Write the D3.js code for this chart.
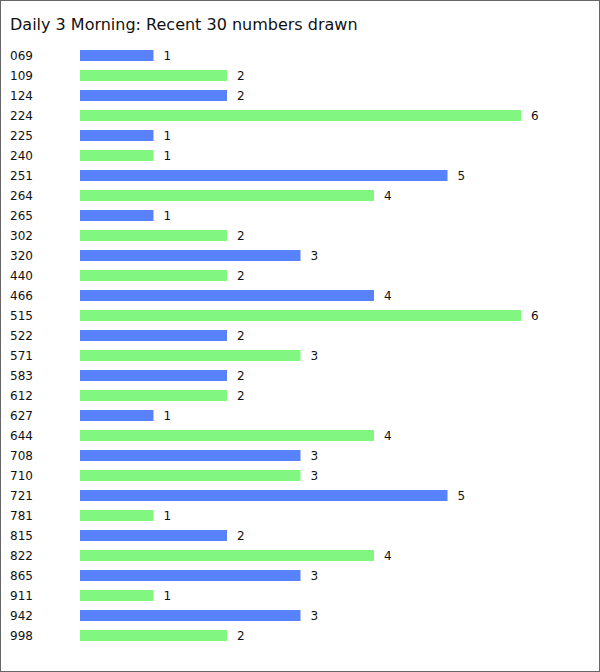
<!DOCTYPE html>
<html><head><meta charset="utf-8">
<script src="https://cdn.jsdelivr.net/npm/d3@7"></script>
<style>body{margin:0;background:#fff}svg{display:block}</style>
</head><body>
<script>
const title = "Daily 3 Morning: Recent 30 numbers drawn";
const numbers = ["069","109","124","224","225","240","251","264","265","302","320","440","466","515","522","571","583","612","627","644","708","710","721","781","815","822","865","911","942","998"];
const counts = [1,2,2,6,1,1,5,4,1,2,3,2,4,6,2,3,2,2,1,4,3,3,5,1,2,4,3,1,3,2];
const colors = ["#5882fa","#81f781"];

const W = 600, H = 672;
const svg = d3.select("body").append("svg").attr("width", W).attr("height", H);
svg.append("rect").attr("x",0.5).attr("y",0.5).attr("width",W-1).attr("height",H-1)
  .attr("fill","#fff").attr("stroke","#666");
svg.append("text").attr("x",10).attr("y",30).text(title)
  .attr("font-family","Verdana, 'DejaVu Sans', sans-serif").attr("font-size",16).attr("fill","#111");

const x = d3.scaleLinear().domain([0,6]).range([80,521]);
const y = d3.scaleBand().domain(numbers).range([45.5,645.5]).paddingInner(0.45).paddingOuter(0.225);

const g = svg.append("g").attr("font-family","Verdana, 'DejaVu Sans', sans-serif").attr("font-size",12);
const rows = g.selectAll("g.row").data(numbers).join("g");
rows.append("text").attr("x",10).attr("y",d=>y(d)+y.bandwidth()/2).attr("dy","0.36em").text(d=>d).attr("fill","#111");
rows.append("rect").attr("x",x(0)).attr("y",d=>y(d)).attr("height",y.bandwidth())
  .attr("width",(d,i)=>x(counts[i])-x(0)).attr("fill",(d,i)=>colors[i%2]);
rows.append("text").attr("x",(d,i)=>x(counts[i])+10).attr("y",d=>y(d)+y.bandwidth()/2).attr("dy","0.36em")
  .text((d,i)=>counts[i]).attr("fill","#111");
</script>
</body></html>
